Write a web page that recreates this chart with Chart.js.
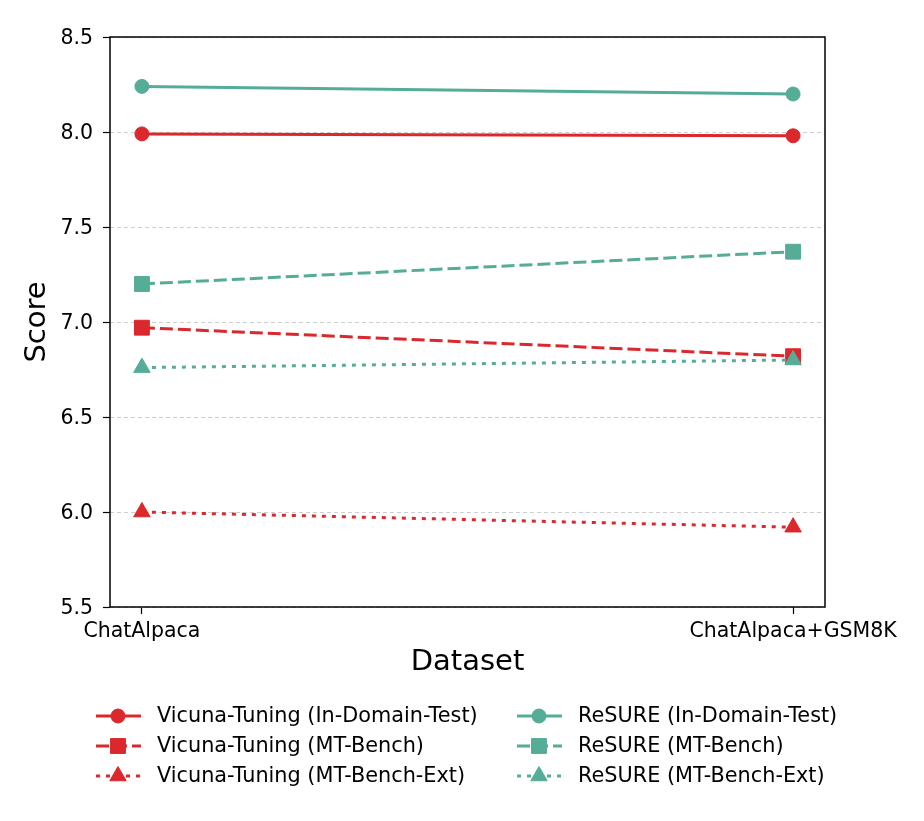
<!DOCTYPE html>
<html>
<head>
<meta charset="utf-8">
<script src="https://cdn.jsdelivr.net/npm/chart.js@4/dist/chart.umd.min.js"></script>
<style>
  html, body { margin: 0; padding: 0; background: #fff; }
  #wrap { width: 924px; height: 821px; }
</style>
</head>
<body>
<div id="wrap"><canvas id="chart" width="924" height="821"></canvas></div>
<script>
// 数据
const categories = ['ChatAlpaca', 'ChatAlpaca+GSM8K']
const yTicks = [5.5, 6.0, 6.5, 7.0, 7.5, 8.0, 8.5]

const vicunaInDomain = [7.99, 7.98]
const vicunaMTBench = [6.97, 6.82]
const vicunaMTBenchExt = [6.00, 5.92]
const resureInDomain = [8.24, 8.20]
const resureMTBench = [7.20, 7.37]
const resureMTBenchExt = [6.76, 6.80]

const RED = '#da282d'
const TEAL = '#55ac97'
const FONT = "'DejaVu Sans', sans-serif"

function toPoints(values) {
  return values.map((v, i) => ({ x: i, y: v }))
}

function makeSet(label, values, color, style, radius, dash, order) {
  return {
    label: label,
    data: toPoints(values),
    borderColor: color,
    backgroundColor: color,
    borderWidth: 3,
    borderDash: dash,
    pointStyle: style,
    pointRadius: radius,
    pointHoverRadius: radius,
    pointBackgroundColor: color,
    pointBorderColor: color,
    pointBorderWidth: 1,
    tension: 0,
    order: order
  }
}

const datasets = [
  makeSet('Vicuna-Tuning (In-Domain-Test)', vicunaInDomain, RED, 'circle', 7, [], 6),
  makeSet('Vicuna-Tuning (MT-Bench)', vicunaMTBench, RED, 'rect', 10.5, [13, 5], 5),
  makeSet('Vicuna-Tuning (MT-Bench-Ext)', vicunaMTBenchExt, RED, 'triangle', 9.5, [4, 6], 4),
  makeSet('ReSURE (In-Domain-Test)', resureInDomain, TEAL, 'circle', 7, [], 3),
  makeSet('ReSURE (MT-Bench)', resureMTBench, TEAL, 'rect', 10.5, [13, 5], 2),
  makeSet('ReSURE (MT-Bench-Ext)', resureMTBenchExt, TEAL, 'triangle', 9.5, [4, 6], 1)
]

// 外框
const framePlugin = {
  id: 'frame',
  beforeDatasetsDraw(chart) {
    const { ctx, chartArea: a } = chart
    ctx.save()
    ctx.strokeStyle = '#000'
    ctx.lineWidth = 1.5
    ctx.strokeRect(a.left, a.top, a.right - a.left, a.bottom - a.top)
    ctx.restore()
  }
}

// 图例（两列，按列排列）
const legendPlugin = {
  id: 'colLegend',
  afterDraw(chart) {
    const ctx = chart.ctx
    const colX = [96, 517]
    const rowY = [716, 746, 776]
    chart.data.datasets.forEach((ds, i) => {
      const x0 = colX[Math.floor(i / 3)]
      const y = rowY[i % 3]
      ctx.save()
      ctx.strokeStyle = ds.borderColor
      ctx.lineWidth = ds.borderWidth
      ctx.setLineDash(ds.borderDash)
      ctx.beginPath()
      ctx.moveTo(x0, y)
      ctx.lineTo(x0 + 45, y)
      ctx.stroke()
      ctx.setLineDash([])
      ctx.fillStyle = ds.pointBackgroundColor
      ctx.strokeStyle = ds.pointBorderColor
      ctx.lineWidth = 1
      Chart.helpers.drawPoint(ctx, {
        pointStyle: ds.pointStyle,
        radius: ds.pointRadius,
        rotation: 0,
        borderWidth: 1
      }, x0 + 22, y)
      ctx.fillStyle = '#000'
      ctx.font = '20.8px ' + FONT
      ctx.textAlign = 'left'
      ctx.textBaseline = 'middle'
      ctx.fillText(ds.label, x0 + 61, y + 1)
      ctx.restore()
    })
  }
}

new Chart(document.getElementById('chart'), {
  type: 'line',
  data: { datasets: datasets },
  plugins: [framePlugin, legendPlugin],
  options: {
    responsive: false,
    animation: false,
    layout: { padding: { top: 37, right: 99, bottom: 138, left: 0 } },
    plugins: {
      legend: { display: false },
      tooltip: { enabled: false }
    },
    scales: {
      x: {
        type: 'linear',
        min: -0.049,
        max: 1.049,
        afterBuildTicks: (scale) => {
          scale.ticks = categories.map((c, i) => ({ value: i }))
        },
        afterFit: (scale) => { scale.height = 76 },
        ticks: {
          color: '#000',
          font: { family: FONT, size: 20.5 },
          padding: 5,
          maxRotation: 0,
          autoSkip: false,
          callback: (v) => categories[v]
        },
        grid: {
          drawOnChartArea: false,
          drawTicks: true,
          tickLength: 7,
          tickColor: '#000',
          tickWidth: 1.2
        },
        border: { display: false },
        title: {
          display: true,
          text: 'Dataset',
          color: '#000',
          font: { family: FONT, size: 29 },
          padding: { top: 0, bottom: 3 }
        }
      },
      y: {
        min: 5.5,
        max: 8.5,
        afterBuildTicks: (scale) => {
          scale.ticks = yTicks.map(v => ({ value: v }))
        },
        afterFit: (scale) => { scale.width = 110 },
        ticks: {
          color: '#000',
          font: { family: FONT, size: 20.5 },
          padding: 10,
          labelOffset: 2,
          callback: (v) => Number(v).toFixed(1)
        },
        grid: {
          color: '#c8c8c8',
          lineWidth: 0.9,
          drawTicks: true,
          tickLength: 7,
          tickColor: '#000',
          tickWidth: 1.2,
          tickBorderDash: []
        },
        border: { display: false, dash: [4, 3] },
        title: {
          display: true,
          text: 'Score',
          color: '#000',
          font: { family: FONT, size: 29 },
          padding: { top: 20, bottom: 0 }
        }
      }
    }
  }
})
</script>
</body>
</html>
